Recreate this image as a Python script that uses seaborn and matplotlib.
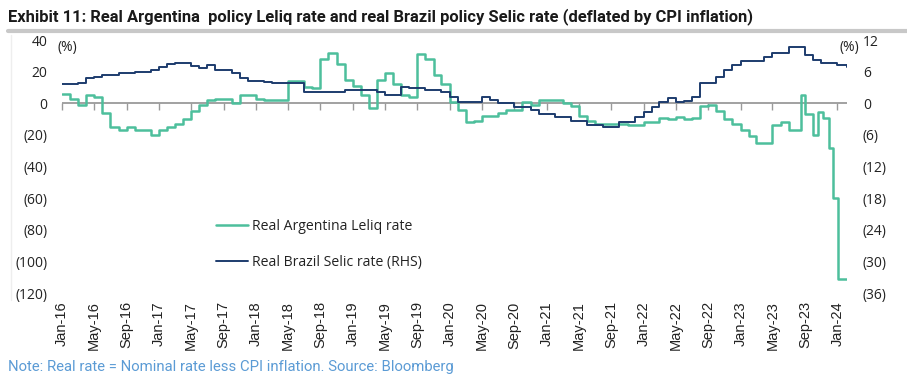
import numpy as np
import pandas as pd
import matplotlib
matplotlib.use("Agg")
import matplotlib.pyplot as plt
import matplotlib.dates as mdates
import seaborn as sns

# ---------------- data ----------------
# Real Argentina Leliq rate (%), monthly from Jan-16 to Aug-23
arg_monthly = [
    6, 3, -1, 5, 4, -6, -15, -17, -15, -17, -17, -20,          # 2016
    -17, -15, -13, -10, -5, -1, 2, 3, 3, 0, 5, 5,              # 2017
    3, 2, 2, 2, 14, 14, 10, 9.5, 28, 32, 25, 15,               # 2018
    11, 5, -3, 15, 19, 12, 5, 4, 31, 28, 18, 12,               # 2019
    1, -4, -12, -11, -8, -8, -6, -4, -4, 1, -1, 2,             # 2020
    2, 2, 0, -2, -8, -11, -13, -13, -13, -13, -14, -14,        # 2021
    -12, -12, -9.5, -10, -9, -10, -9.5, -2, -1, -5, -10, -13,  # 2022
    -17, -21, -25, -25, -14, -12, -17, -17,                    # 2023 Jan-Aug
]
# tail (irregular dates)
arg_tail_dates = ["2023-08-15", "2023-09-01", "2023-10-01", "2023-10-18",
                  "2023-11-08", "2023-12-01", "2023-12-15", "2024-01-03",
                  "2024-02-05"]
arg_tail_values = [5, -6.5, -20, -5.5, -9.5, -28.5, -60, -111, -111]

# Real Brazil Selic rate (%, RHS), monthly from Jan-16 to Feb-24
bra_monthly = [
    3.6, 3.6, 3.8, 4.8, 5.0, 5.3, 5.3, 5.7, 5.7, 5.9, 6.0, 6.3,      # 2016
    6.8, 7.5, 7.6, 7.6, 7.0, 6.6, 7.3, 6.4, 6.4, 5.7, 4.8, 4.2,      # 2017
    4.2, 4.0, 3.9, 3.8, 3.8, 3.8, 2.1, 2.1, 2.2, 2.2, 2.1, 2.6,      # 2018
    2.6, 2.6, 2.5, 2.1, 1.5, 1.6, 3.0, 2.8, 2.8, 2.5, 2.5, 2.1,      # 2019
    1.1, 0.2, 0.2, 0.2, 1.1, 0.7, 0.0, 0.0, -0.8, -0.8, -1.3, -2.1,  # 2020
    -2.1, -2.7, -2.7, -3.4, -3.4, -4.2, -4.2, -4.5, -4.5, -3.6, -3.6, -2.7,  # 2021
    -1.7, -0.8, 0.3, 1.0, 0.3, 0.5, 1.1, 3.8, 3.8, 5.0, 6.3, 7.2,    # 2022
    8.0, 8.0, 8.0, 8.7, 9.5, 9.5, 10.6, 10.6, 9.1, 8.2, 7.6, 7.6,    # 2023
    7.2, 6.8,                                                       # 2024
]

x_tick_labels = ["Jan-16", "May-16", "Sep-16", "Jan-17", "May-17", "Sep-17",
                 "Jan-18", "May-18", "Sep-18", "Jan-19", "May-19", "Sep-19",
                 "Jan-20", "May-20", "Sep-20", "Jan-21", "May-21", "Sep-21",
                 "Jan-22", "May-22", "Sep-22", "Jan-23", "May-23", "Sep-23",
                 "Jan-24"]
left_ticks = [40, 20, 0, -20, -40, -60, -80, -100, -120]
right_ticks = [12, 6, 0, -6, -12, -18, -24, -30, -36]

# ---------------- frames ----------------
arg_dates = list(pd.date_range("2016-01-01", periods=len(arg_monthly), freq="MS")) + \
    list(pd.to_datetime(arg_tail_dates))
arg_df = pd.DataFrame({"date": arg_dates,
                       "value": list(arg_monthly) + list(arg_tail_values)})
bra_dates = list(pd.date_range("2016-01-01", periods=len(bra_monthly), freq="MS"))
bra_dates[-1] = pd.Timestamp("2024-02-05")
bra_df = pd.DataFrame({"date": bra_dates, "value": bra_monthly})

tick_dates = pd.to_datetime(x_tick_labels, format="%b-%y")

def fmt(v):
    return f"({abs(v)})" if v < 0 else f"{v}"

# ---------------- style ----------------
sns.set_theme(style="white")
plt.rcParams["font.family"] = ["Open Sans", "DejaVu Sans"]

TEAL = "#4dbf9c"
NAVY = "#1d3c6e"
TXT = "#222222"
NARROW = ["Liberation Sans Narrow", "Roboto", "DejaVu Sans"]

fig = plt.figure(figsize=(9.07, 3.87), dpi=100)
ax = fig.add_axes([62 / 907, 1 - 293 / 387, (847 - 62) / 907, (293 - 40) / 387])
ax2 = ax.twinx()

sns.lineplot(data=arg_df, x="date", y="value", ax=ax, color=TEAL, lw=1.8,
             drawstyle="steps-post", label="Real Argentina Leliq rate", legend=False)
sns.lineplot(data=bra_df, x="date", y="value", ax=ax2, color=NAVY, lw=1.4,
             drawstyle="steps-post", label="Real Brazil Selic rate (RHS)", legend=False)

ax.set_xlim(pd.Timestamp("2016-01-01"), pd.Timestamp("2024-02-06"))
ax.set_ylim(-120, 40)
ax2.set_ylim(-36, 12)
ax.axhline(0, color="#9a9a9a", lw=1.3, zorder=0)

for a in (ax, ax2):
    a.set_xlabel("")
    a.set_ylabel("")
    for s in a.spines.values():
        s.set_visible(False)

ax.set_yticks(left_ticks)
ax.set_yticklabels([fmt(v) for v in left_ticks], fontsize=10, color=TXT)
ax2.set_yticks(right_ticks)
ax2.set_yticklabels([fmt(v) for v in right_ticks], fontsize=10, color=TXT)
ax.tick_params(axis="y", length=0, pad=10.5)
ax2.tick_params(axis="y", length=0, pad=11.5)

ax.set_xticks(tick_dates)
ax.set_xticklabels(x_tick_labels, rotation=90, fontsize=10.5, color=TXT,
                   family=["Liberation Sans", "DejaVu Sans"])
ax.tick_params(axis="x", length=0, pad=6)

# tick marks on the zero line
sec = ax.secondary_xaxis((0 - (-120)) / 160)
sec.set_xticks(mdates.date2num(tick_dates))
sec.tick_params(axis="x", direction="in", length=5, width=1, color="#9a9a9a",
                labeltop=False, labelbottom=False)
for s in sec.spines.values():
    s.set_visible(False)

# (%) labels
fig.text(57 / 907, 1 - 48 / 387, "(%)", fontsize=10, color=TXT, va="center", ha="left")
fig.text(859 / 907, 1 - 48 / 387, "(%)", fontsize=10, color=TXT, va="center", ha="right")

# legend
h1, l1 = ax.get_legend_handles_labels()
h2, l2 = ax2.get_legend_handles_labels()
leg = ax.legend(h1 + h2, l1 + l2, loc="upper left",
                bbox_to_anchor=(203 / 907, 1 - 206 / 387), bbox_transform=fig.transFigure,
                frameon=False, fontsize=10.1, handlelength=2.3, handletextpad=0.3,
                labelspacing=1.5)
for t in leg.get_texts():
    t.set_color(TXT)

# title and rule
fig.text(8 / 907, 1 - 17 / 387,
         "Exhibit 11: Real Argentina  policy Leliq rate and real Brazil policy Selic rate (deflated by CPI inflation)",
         fontsize=11.9, fontweight="bold", color="#1a1a1a", va="center", ha="left",
         family=NARROW)
fig.add_artist(plt.Line2D([8 / 907, 1.0], [1 - 31 / 387, 1 - 31 / 387],
                          transform=fig.transFigure, color="#c8c8c8", lw=3))
fig.add_artist(plt.Line2D([11 / 907, 11 / 907], [1 - 300 / 387, 1 - 35 / 387],
                          transform=fig.transFigure, color="#eeeeee", lw=1))

fig.text(8 / 907, 1 - 367 / 387,
         "Note: Real rate = Nominal rate less CPI inflation. Source: Bloomberg",
         fontsize=10.7, color="#5b9bd5", va="center", ha="left",
         family=NARROW)

fig.savefig("out.png", dpi=100)
